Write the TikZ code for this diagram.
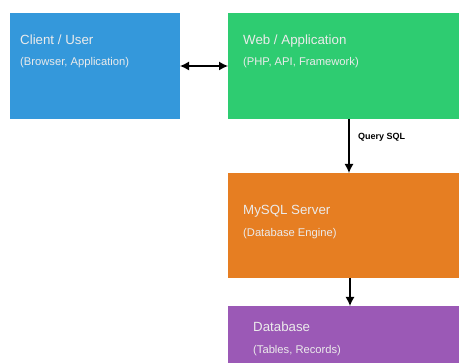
\documentclass[tikz,border=0pt]{standalone}
\usepackage{fontspec}
\setmainfont{Liberation Sans}
\usetikzlibrary{arrows.meta}
\definecolor{cblue}{RGB}{52,152,219}
\definecolor{cgreen}{RGB}{46,204,113}
\definecolor{corange}{RGB}{230,126,34}
\definecolor{cpurple}{RGB}{155,89,182}
\begin{document}
\begin{tikzpicture}[x=1pt,y=-1pt,
  box/.style={anchor=north west,inner sep=0pt,outer sep=0pt,draw=none},
  ttl/.style={anchor=base west,inner sep=0pt,text=white!92!black,font=\fontsize{13.3}{15}\selectfont},
  sub/.style={anchor=base west,inner sep=0pt,text=white!92!black,font=\fontsize{11.2}{13}\selectfont},
  conn/.style={line width=1.3pt,draw=black}]
\useasboundingbox (0,0) rectangle (459,363);
\clip (0,0) rectangle (459,363);
\fill[white] (0,0) rectangle (459,363);
\node[box,fill=cblue,minimum width=170pt,minimum height=106pt] (client) at (10,13) {};
\node[box,fill=cgreen,minimum width=260pt,minimum height=106pt] (web) at (228,13) {};
\node[box,fill=corange,minimum width=260pt,minimum height=105pt] (mysql) at (228,173) {};
\node[box,fill=cpurple,minimum width=260pt,minimum height=80pt] (db) at (228,306) {};
\node[ttl] (t1) at (20,45) {Client / User};
\node[sub] (s1) at (20,66) {(Browser, Application)};
\node[ttl] (t2) at (243,45) {Web / Application};
\node[sub] (s2) at (243,66) {(PHP, API, Framework)};
\node[ttl] (t3) at (243,215) {MySQL Server};
\node[sub] (s3) at (243,237) {(Database Engine)};
\node[ttl] (t4) at (253,332) {Database};
\node[sub] (s4) at (253,354) {(Tables, Records)};
\coordinate (cR) at (180,66);
\coordinate (wL) at (228,66);
\draw[conn,{Latex[length=9pt,width=9pt]}-{Latex[length=9pt,width=9pt]}] (cR) -- (wL);
\coordinate (wB) at (349,119);
\coordinate (mT) at (349,173);
\draw[conn,-{Latex[length=9pt,width=9pt]}] (wB) -- (mT);
\node[anchor=west,inner sep=0pt,font=\bfseries\fontsize{9}{10}\selectfont] (q) at (358,137) {Query SQL};
\coordinate (mB) at (350,278);
\coordinate (dT) at (350,306);
\draw[conn,-{Latex[length=9pt,width=9pt]}] (mB) -- (dT);
\end{tikzpicture}
\end{document}
